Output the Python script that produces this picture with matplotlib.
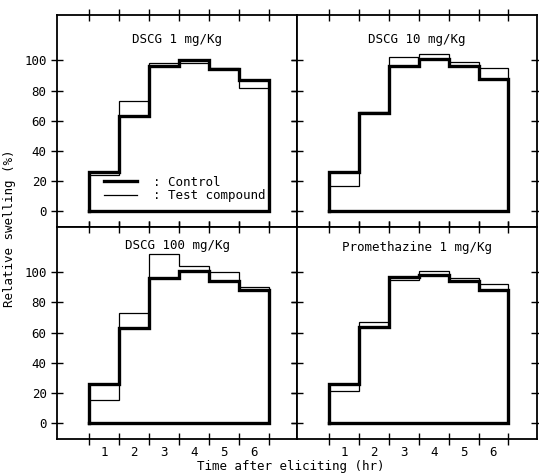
import numpy as np
import matplotlib
matplotlib.use("Agg")
import matplotlib.pyplot as plt

hours = [1, 2, 3, 4, 5, 6]
yticks = [0, 20, 40, 60, 80, 100]
titles = ["DSCG 1 mg/Kg", "DSCG 10 mg/Kg", "DSCG 100 mg/Kg", "Promethazine 1 mg/Kg"]
control_1 = [26, 63, 96, 100, 94, 87]
test_1 = [24, 73, 98, 98, 95, 82]
control_10 = [26, 65, 96, 101, 96, 88]
test_10 = [17, 66, 102, 104, 99, 95]
control_100 = [26, 63, 96, 101, 94, 88]
test_100 = [15, 73, 112, 104, 100, 90]
control_prom = [26, 64, 97, 98, 94, 88]
test_prom = [21, 67, 95, 101, 96, 92]

controls = [control_1, control_10, control_100, control_prom]
tests = [test_1, test_10, test_100, test_prom]

plt.rcParams['font.family'] = ['DejaVu Sans Mono']
plt.rcParams['font.size'] = 9


def closed_steps(centers, values):
    c = np.asarray(centers, float)
    v = np.asarray(values, float)
    edges = np.concatenate([c - 0.5, [c[-1] + 0.5]])
    xs = [edges[0]]
    ys = [0]
    for i, val in enumerate(v):
        xs += [edges[i], edges[i + 1]]
        ys += [val, val]
    xs += [edges[-1], edges[0]]
    ys += [0, 0]
    return xs, ys


fig = plt.figure(figsize=(5.39, 4.75), dpi=100)
gs = fig.add_gridspec(2, 2, left=0.106, right=0.996, top=0.968, bottom=0.076,
                      wspace=0, hspace=0)
title_y = [0.885, 0.885, 0.915, 0.905]
for k in range(4):
    r, c = divmod(k, 2)
    ax = fig.add_subplot(gs[r, c])
    xs, ys = closed_steps(hours, controls[k])
    ax.plot(xs, ys, color='black', lw=2.4, solid_joinstyle='miter', label=': Control')
    xs, ys = closed_steps(hours, tests[k])
    ax.plot(xs, ys, color='black', lw=0.9, solid_joinstyle='miter', label=': Test compound')
    ax.set_xlim(-0.57, 7.45)
    ax.set_ylim(-10.5, 130)
    ax.set_xticks([h - 0.5 for h in hours] + [hours[-1] + 0.5])
    ax.set_xticks(hours, minor=True)
    ax.set_yticks(yticks)
    ax.tick_params(which='major', direction='inout', length=8, width=1,
                   top=True, right=True, bottom=True, left=True,
                   labelbottom=False, labelleft=(c == 0))
    ax.tick_params(which='minor', length=0, labelbottom=(r == 1), pad=5)
    ax.set_xticklabels([str(h) for h in hours], minor=True)
    ax.set_xticklabels([])
    for sp in ax.spines.values():
        sp.set_linewidth(1.3)
    ax.text(0.5, title_y[k], titles[k], transform=ax.transAxes, ha='center', va='center')
    if k == 0:
        ax.legend(loc='lower left', bbox_to_anchor=(0.16, 0.075), frameon=False,
                  handlelength=2.6, handletextpad=1.3, labelspacing=0.05,
                  borderpad=0.2)

fig.text(0.018, 0.52, "Relative swelling (%)", rotation=90, ha='center', va='center')
fig.text(0.54, 0.017, "Time after eliciting (hr)", ha='center', va='center')
fig.savefig("out.png", dpi=100)
